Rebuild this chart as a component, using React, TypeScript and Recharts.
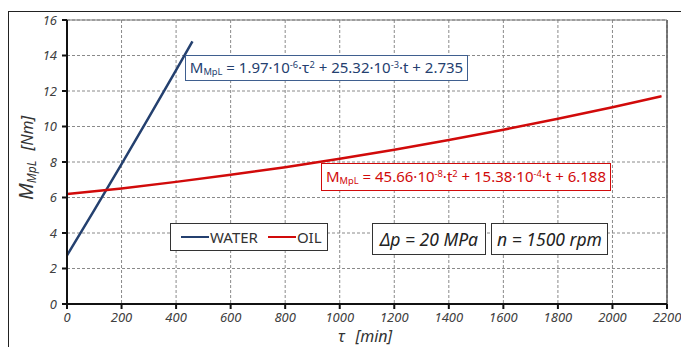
import React from "react";
import {
    LineChart,
    Line,
    XAxis,
    YAxis,
    CartesianGrid,
    ReferenceLine
} from "recharts";

// values (torque M_MpL in Nm vs time in min)
const waterTime = [0, 100, 200, 300, 400, 460];
const waterTorque = [2.74, 5.29, 7.88, 10.51, 13.18, 14.8];

const oilTime = [0, 200, 400, 600, 800, 1000, 1200, 1400, 1600, 1800, 2000, 2180];
const oilTorque = [6.19, 6.51, 6.88, 7.28, 7.71, 8.18, 8.69, 9.24, 9.82, 10.44, 11.09, 11.71];

const xTicks = [0, 200, 400, 600, 800, 1000, 1200, 1400, 1600, 1800, 2000, 2200];
const yTicks = [0, 2, 4, 6, 8, 10, 12, 14, 16];

const waterData = waterTime.map((t, i) => ({ t, m: waterTorque[i] }));
const oilData = oilTime.map((t, i) => ({ t, m: oilTorque[i] }));

const WATER = "#24406f";
const OIL = "#d10a0a";
const FONT = "'Noto Sans', 'Open Sans', sans-serif";

const tickStyle = {
    fontFamily: FONT,
    fontStyle: "italic",
    fontSize: 13,
    fill: "#404040"
};

const box: React.CSSProperties = {
    position: "absolute",
    background: "#fff",
    boxSizing: "border-box",
    display: "flex",
    alignItems: "center",
    justifyContent: "center",
    whiteSpace: "nowrap",
    fontFamily: FONT
};

const sub: React.CSSProperties = { fontSize: "0.62em", verticalAlign: "-0.25em" };
const sup: React.CSSProperties = { fontSize: "0.62em", verticalAlign: "0.55em" };

export default function App() {

    return (
        // fixed so the page never scrolls; inner layer keeps the 8px body offset
        <div style={{ position: "fixed", left: 0, top: 0, width: 681, height: 347, overflow: "hidden", background: "#fff" }}>
        <div style={{ position: "absolute", left: 8, top: 8, width: 673, height: 339 }}>

            <div
                style={{
                    position: "absolute",
                    left: 0,
                    top: 3,
                    width: 800,
                    height: 500,
                    borderTop: "1.5px solid #222",
                    borderLeft: "1.5px solid #222"
                }}
            />

            <div style={{ position: "absolute", left: 0, top: 0 }}>
                <LineChart
                    width={700}
                    height={339}
                    margin={{ top: 12, right: 41, bottom: 13, left: 0 }}
                >
                    <CartesianGrid
                        stroke="#8a8a8a"
                        strokeDasharray="3 2"
                        verticalValues={xTicks}
                        horizontalValues={yTicks}
                    />
                    <ReferenceLine x={2200} stroke="#555" strokeWidth={1.5} />
                    <ReferenceLine y={16} stroke="#777" strokeWidth={1} />
                    <XAxis
                        type="number"
                        dataKey="t"
                        domain={[0, 2200]}
                        ticks={xTicks}
                        allowDataOverflow
                        height={30}
                        tick={tickStyle}
                        tickSize={5}
                        tickMargin={4}
                        stroke="#111"
                        strokeWidth={2}
                    />
                    <YAxis
                        type="number"
                        dataKey="m"
                        domain={[0, 16]}
                        ticks={yTicks}
                        width={59}
                        tick={tickStyle}
                        tickSize={5}
                        tickMargin={5}
                        stroke="#111"
                        strokeWidth={2}
                    />
                    <Line
                        data={waterData}
                        dataKey="m"
                        type="monotone"
                        stroke={WATER}
                        strokeWidth={2.5}
                        dot={false}
                        isAnimationActive={false}
                    />
                    <Line
                        data={oilData}
                        dataKey="m"
                        type="monotone"
                        stroke={OIL}
                        strokeWidth={2.5}
                        dot={false}
                        isAnimationActive={false}
                    />
                </LineChart>
            </div>

            {/* fitted equations */}
            <div
                style={{
                    ...box,
                    left: 177,
                    top: 47,
                    width: 283,
                    height: 26,
                    border: "1.5px solid #3f5f8f",
                    color: WATER,
                    fontSize: 15
                }}
            >
                <span>
                    M<span style={sub}>MpL</span> = 1.97·10<span style={sup}>-6</span>·τ<span style={sup}>2</span> + 25.32·10<span style={sup}>-3</span>·t + 2.735
                </span>
            </div>

            <div
                style={{
                    ...box,
                    left: 313,
                    top: 155,
                    width: 290,
                    height: 28,
                    border: "1.5px solid " + OIL,
                    color: OIL,
                    fontSize: 15
                }}
            >
                <span>
                    M<span style={sub}>MpL</span> = 45.66·10<span style={sup}>-8</span>·t<span style={sup}>2</span> + 15.38·10<span style={sup}>-4</span>·t + 6.188
                </span>
            </div>

            {/* legend */}
            <div
                style={{
                    ...box,
                    left: 162,
                    top: 215,
                    width: 158,
                    height: 28,
                    border: "1.5px solid #333",
                    color: "#333",
                    fontSize: 15,
                    justifyContent: "flex-start",
                    paddingLeft: 10
                }}
            >
                <span style={{ display: "inline-block", width: 28, height: 2.5, background: WATER }} />
                <span style={{ marginLeft: 1 }}>WATER</span>
                <span style={{ display: "inline-block", width: 28, height: 2.5, background: OIL, marginLeft: 10 }} />
                <span style={{ marginLeft: 1 }}>OIL</span>
            </div>

            <div
                style={{
                    ...box,
                    left: 364,
                    top: 215,
                    width: 114,
                    height: 32,
                    border: "1.5px solid #333",
                    color: "#222",
                    fontSize: 17.5,
                    fontStyle: "italic"
                }}
            >
                Δp = 20 MPa
            </div>

            <div
                style={{
                    ...box,
                    left: 483,
                    top: 215,
                    width: 117,
                    height: 32,
                    border: "1.5px solid #333",
                    color: "#222",
                    fontSize: 17.5,
                    fontStyle: "italic"
                }}
            >
                n = 1500 rpm
            </div>

            {/* axis titles */}
            <div
                style={{
                    position: "absolute",
                    left: 18,
                    top: 150,
                    transform: "translate(-50%, -50%) rotate(-90deg)",
                    whiteSpace: "nowrap",
                    fontFamily: FONT,
                    fontStyle: "italic",
                    color: "#333",
                    fontSize: 20
                }}
            >
                M<span style={{ fontSize: 12, verticalAlign: "-0.3em" }}>MpL</span>
                <span style={{ fontSize: 16, marginLeft: 10 }}>[Nm]</span>
            </div>

            <div
                style={{
                    position: "absolute",
                    left: 330,
                    top: 318,
                    whiteSpace: "nowrap",
                    fontFamily: FONT,
                    fontStyle: "italic",
                    color: "#333",
                    fontSize: 16,
                    lineHeight: "20px"
                }}
            >
                τ<span style={{ marginLeft: 11 }}>[min]</span>
            </div>
        </div>
        </div>
    );
}
